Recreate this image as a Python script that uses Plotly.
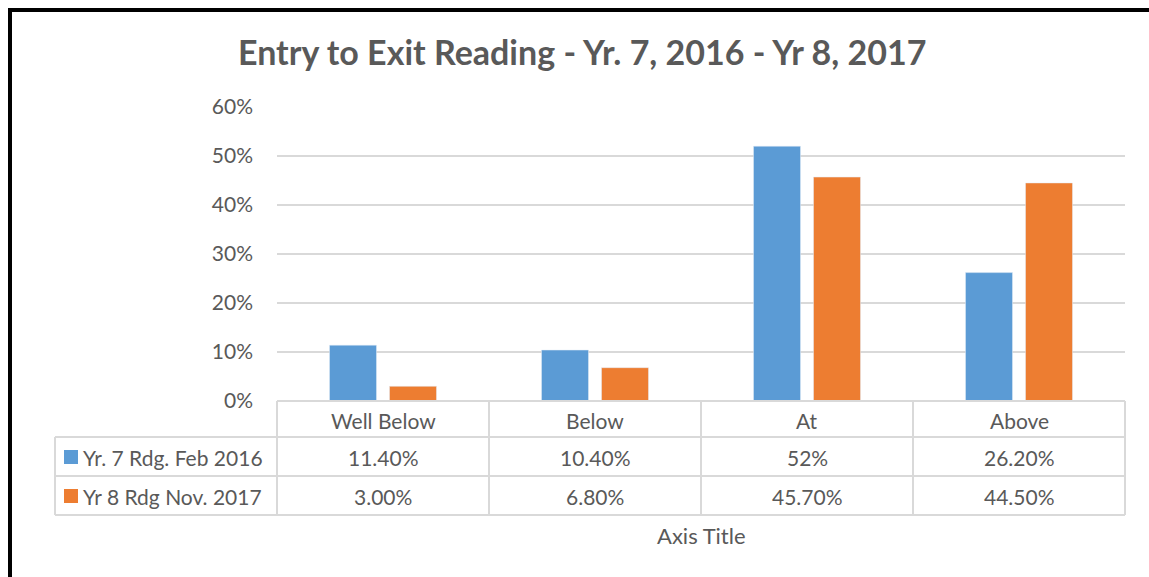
import plotly.graph_objects as go

categories = ["Well Below", "Below", "At", "Above"]
series_names = ["Yr. 7 Rdg. Feb 2016", "Yr 8 Rdg Nov. 2017"]
yr7_values = [0.114, 0.104, 0.52, 0.262]
yr8_values = [0.03, 0.068, 0.457, 0.445]
yr7_labels = ["11.40%", "10.40%", "52%", "26.20%"]
yr8_labels = ["3.00%", "6.80%", "45.70%", "44.50%"]
colors = ["#5B9BD5", "#ED7D31"]

W, H = 1149, 577
L, R, T, B = 277, 1125, 107, 401
PW, PH = R - L, B - T

def px(x):
    return (x - L) / PW

def py(y):
    return (B - y) / PH

FONT = "Lato, Carlito, Calibri, sans-serif"
TXT = "#595959"
GRID = "#D9D9D9"
FS = 21

fig = go.Figure()
fig.add_trace(go.Bar(x=categories, y=yr7_values, name=series_names[0], marker_color=colors[0]))
fig.add_trace(go.Bar(x=categories, y=yr8_values, name=series_names[1], marker_color=colors[1]))

shapes = []
ann = []

# table lines
row_y = [401, 437, 476, 515]
col_x = [277, 489, 701, 913, 1125]
for i, yy in enumerate(row_y):
    x0 = 277 if i == 0 else 55
    shapes.append(dict(type="line", xref="paper", yref="paper", x0=px(x0), x1=px(1125),
                       y0=py(yy), y1=py(yy), line=dict(color=GRID, width=2)))
for xx in col_x:
    shapes.append(dict(type="line", xref="paper", yref="paper", x0=px(xx), x1=px(xx),
                       y0=py(401), y1=py(515), line=dict(color=GRID, width=2)))
shapes.append(dict(type="line", xref="paper", yref="paper", x0=px(55), x1=px(55),
                   y0=py(437), y1=py(515), line=dict(color=GRID, width=2)))

# cell text
rows_text = [yr7_labels, yr8_labels]
row_centers = [457, 496]
for j, cat in enumerate(categories):
    cx = (col_x[j] + col_x[j + 1]) / 2
    ann.append(dict(xref="paper", yref="paper", x=px(cx), y=py(420), text=cat, showarrow=False,
                    xanchor="center", yanchor="middle", font=dict(size=FS, color=TXT, family=FONT)))
    for r in range(2):
        ann.append(dict(xref="paper", yref="paper", x=px(cx), y=py(row_centers[r]), text=rows_text[r][j],
                        showarrow=False, xanchor="center", yanchor="middle",
                        font=dict(size=FS, color=TXT, family=FONT)))

# legend keys in table
for r in range(2):
    yc = row_centers[r]
    shapes.append(dict(type="rect", xref="paper", yref="paper", x0=px(64), x1=px(78),
                       y0=py(yc + 7), y1=py(yc - 7), fillcolor=colors[r], line=dict(width=0)))
    ann.append(dict(xref="paper", yref="paper", x=px(81), y=py(yc), text=series_names[r], showarrow=False,
                    xanchor="left", yanchor="middle", font=dict(size=FS, color=TXT, family=FONT)))

# axis title
ann.append(dict(xref="paper", yref="paper", x=px(701), y=py(535), text="Axis Title", showarrow=False,
                xanchor="center", yanchor="middle", font=dict(size=22, color=TXT, family=FONT)))

# chart title
ann.append(dict(xref="paper", yref="paper", x=px(582), y=py(52),
                text="<b>Entry to Exit Reading - Yr. 7, 2016 - Yr 8, 2017</b>", showarrow=False,
                xanchor="center", yanchor="middle", font=dict(size=34, color=TXT, family=FONT)))

# black border
shapes.append(dict(type="line", xref="paper", yref="paper", x0=px(10), x1=px(10),
                   y0=py(8), y1=py(590), line=dict(color="black", width=4)))
shapes.append(dict(type="line", xref="paper", yref="paper", x0=px(8), x1=px(1160),
                   y0=py(10), y1=py(10), line=dict(color="black", width=4)))

fig.update_layout(
    width=W, height=H,
    margin=dict(l=L, r=W - R, t=T, b=H - B, pad=0),
    paper_bgcolor="white", plot_bgcolor="white",
    showlegend=False,
    barmode="group", bargap=0.434, bargroupgap=0.2167,
    font=dict(family=FONT, color=TXT),
    xaxis=dict(showticklabels=False, showgrid=False, zeroline=False, showline=False, ticks="",
               range=[-0.5, 3.5]),
    yaxis=dict(range=[0, 0.6], tickvals=[0, 0.1, 0.2, 0.3, 0.4, 0.5, 0.6], tickformat=".0%",
               showgrid=True, gridcolor=GRID, gridwidth=1.5, zeroline=False, showline=False,
               ticks="", ticklabelstandoff=23, tickfont=dict(size=FS, color=TXT, family=FONT)),
    shapes=shapes, annotations=ann,
)

fig.write_html("out.html", config={"displayModeBar": False},
               post_script="document.body.style.margin='0';document.body.style.overflow='hidden';")
